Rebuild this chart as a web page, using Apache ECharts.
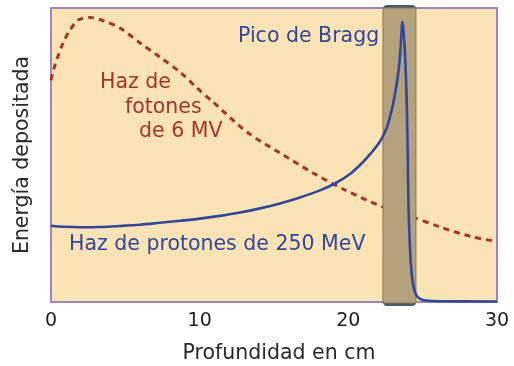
<!DOCTYPE html>
<html>
<head>
<meta charset="utf-8">
<script src="https://cdn.jsdelivr.net/npm/echarts@6/dist/echarts.min.js"></script>
<style>
  html, body { margin: 0; padding: 0; background: #ffffff; }
  #chart { width: 514px; height: 366px; }
</style>
</head>
<body>
<div id="chart"></div>
<script>
// Depth (cm) and relative deposited energy for the 250 MeV proton beam
const protonDepth = [0.00, 0.94, 1.95, 3.30, 4.64, 5.99, 7.33, 8.68, 10.02, 11.37, 12.71, 14.06, 15.40, 16.75, 18.09, 19.10, 20.11, 20.99, 21.59, 21.86, 22.13, 22.40, 22.60, 22.80, 22.97, 23.10, 23.24, 23.34, 23.44, 23.51, 23.58, 23.62, 23.68, 23.78, 23.88, 23.94, 24.00, 24.04, 24.11, 24.21, 24.35, 24.55, 24.82, 25.22, 26.17, 30.00];
const protonDose  = [25.95, 25.58, 25.44, 25.51, 25.85, 26.29, 26.94, 27.62, 28.37, 29.29, 30.41, 31.84, 33.54, 35.58, 37.96, 40.31, 43.54, 47.62, 51.02, 52.72, 54.59, 57.14, 59.52, 62.93, 66.33, 69.73, 73.81, 77.21, 81.63, 86.39, 91.50, 95.24, 93.88, 87.41, 75.51, 65.31, 48.30, 34.69, 22.79, 12.59, 6.12, 2.55, 1.09, 0.51, 0.27, 0.17];

// Depth (cm) and relative deposited energy for the 6 MV photon beam
const photonDepth = [0, 0.27, 0.81, 1.28, 1.82, 2.62, 3.5, 4.64, 5.99, 7.33, 8.68, 9.82, 10.9, 13.18, 15.4, 17.62, 19.77, 22.33, 24.14, 26.16, 28.38, 30];
const photonDose  = [75.5, 80.6, 88.1, 92.5, 95.9, 96.8, 95.7, 93.2, 88.1, 83.3, 78.2, 72.8, 68.0, 57.8, 50.7, 43.9, 38.1, 32.3, 29.3, 25.5, 22.1, 20.6];

// Depth range that contains the Bragg peak
const braggBand = [22.33, 24.55];

// X axis ticks
const depthTicks = [0, 10, 20, 30];

const FONT = 'DejaVu Sans';
const BLUE = '#2f47a0';
const RED = '#a5352a';
const TEXT_SIZE = 20.5;

const pairs = (xs, ys) => xs.map((x, i) => [x, ys[i]]);

const chart = echarts.init(document.getElementById('chart'), null, { renderer: 'canvas' });

chart.setOption({
  animation: false,
  backgroundColor: '#ffffff',
  grid: {
    left: 51, right: 17, top: 8, bottom: 64,
    outerBoundsMode: 'none',
    containLabel: false,
    show: true,
    backgroundColor: '#fbe4b3',
    borderColor: '#9d86c6',
    borderWidth: 2
  },
  xAxis: {
    type: 'value',
    min: depthTicks[0],
    max: depthTicks[depthTicks.length - 1],
    interval: 10,
    name: 'Profundidad en cm',
    nameLocation: 'middle',
    nameGap: 41,
    nameTextStyle: { fontFamily: FONT, fontSize: TEXT_SIZE, color: '#2a2a2a', padding: [0, 0, 0, 10] },
    axisLine: { show: false },
    axisTick: { show: false },
    splitLine: { show: false },
    axisLabel: { fontFamily: FONT, fontSize: 19, color: '#222222', margin: 10 }
  },
  yAxis: {
    type: 'value',
    min: 0,
    max: 100,
    name: 'Energía depositada',
    nameLocation: 'middle',
    nameGap: 18,
    nameRotate: 90,
    nameTextStyle: { fontFamily: FONT, fontSize: TEXT_SIZE, color: '#2a2a2a' },
    axisLine: { show: false },
    axisTick: { show: false },
    axisLabel: { show: false },
    splitLine: { show: false }
  },
  series: [
    {
      name: 'Haz de fotones de 6 MV',
      type: 'line',
      z: 2,
      data: pairs(photonDepth, photonDose),
      smooth: 0.3,
      symbol: 'none',
      lineStyle: { color: RED, width: 3, type: [6, 5] }
    },
    {
      name: 'Haz de protones de 250 MeV',
      type: 'line',
      z: 8,
      data: pairs(protonDepth, protonDose),
      smooth: 0.35,
      symbol: 'none',
      lineStyle: { color: BLUE, width: 2.6 }
    }
  ]
});

// Shaded Bragg-peak band, positioned through the x axis scale
const gridRect = chart.getModel().getComponent('grid').coordinateSystem.getRect();
const xa = chart.convertToPixel({ xAxisIndex: 0 }, braggBand[0]);
const xb = chart.convertToPixel({ xAxisIndex: 0 }, braggBand[1]);
const bandTop = gridRect.y - 3;
const bandBottom = gridRect.y + gridRect.height + 4;

const label = (text, x, y, color) => ({
  type: 'text', z: 10, x: x, y: y,
  style: { text: text, fill: color, font: TEXT_SIZE + 'px ' + FONT, textAlign: 'left', textVerticalAlign: 'middle' }
});

chart.setOption({
  graphic: [
    {
      type: 'rect', z: 5,
      shape: { x: xa, y: bandTop, width: xb - xa, height: bandBottom - bandTop, r: 4 },
      style: { fill: '#505a66' }
    },
    {
      type: 'rect', z: 6,
      shape: { x: xa, y: bandTop + 3, width: xb - xa, height: bandBottom - bandTop - 6 },
      style: { fill: '#b4a27c', stroke: '#8a7856', lineWidth: 1 }
    },
    label('Pico de Bragg', 238, 37, BLUE),
    label('Haz de', 100, 83, RED),
    label('fotones', 125, 108, RED),
    label('de 6 MV', 139, 132, RED),
    label('Haz de protones de 250 MeV', 69, 245, BLUE)
  ]
});
</script>
</body>
</html>
